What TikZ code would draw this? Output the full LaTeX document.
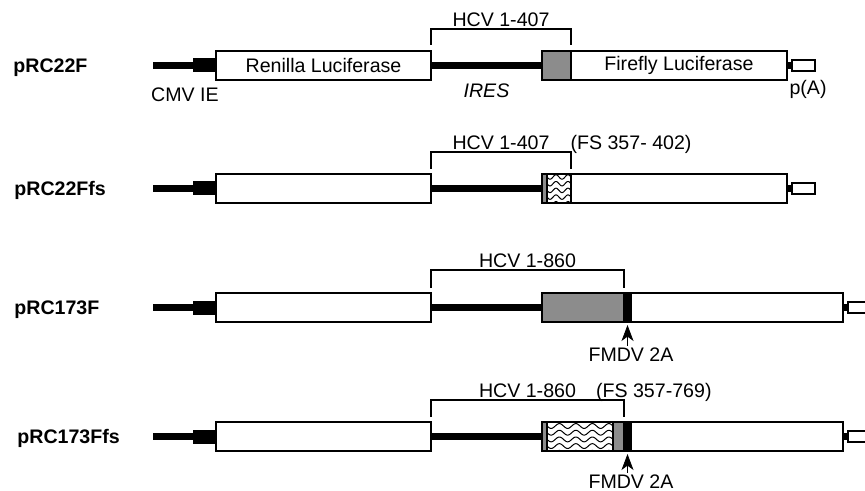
\documentclass[tikz,border=0pt]{standalone}
\usepackage{fontspec}
\setmainfont{Liberation Sans}
\usetikzlibrary{arrows.meta,positioning}
\newcommand{\lblfont}{\fontsize{9.8}{11.5}\selectfont}

\begin{document}
\begin{tikzpicture}[x=0.5pt,y=-0.5pt,font=\lblfont,
  seg/.style={draw,line width=0.9pt,inner sep=0pt,outer sep=0pt,anchor=west,minimum height=14.5pt,fill=#1},
  seg/.default=white,
  cmv/.style={fill=black,inner sep=0pt,outer sep=0pt,anchor=west,minimum width=11.5pt,minimum height=7pt},
  link/.style={fill=black,inner sep=0pt,outer sep=0pt,anchor=west,minimum width=2.5pt,minimum height=3.5pt},
  pa/.style={draw,line width=0.8pt,fill=white,inner sep=0pt,outer sep=0pt,anchor=west,minimum width=11.5pt,minimum height=5.5pt},
  dna/.style={line width=3.3pt},
  brk/.style={line width=0.7pt},
  lbl/.style={inner sep=1pt},
  plasmid/.style={font=\lblfont\bfseries,anchor=west,inner sep=0pt},
  wave/.style={line width=0.5pt},
  fmdv/.style={-{Stealth[length=8pt,width=6pt,inset=2.2pt]},line width=0.4pt}]
\clip (0,0) rectangle (865,491);

% pRC22F
\node[plasmid] (n1) at (13,67.5) {pRC22F};
\coordinate (p1) at (153,65.5);
\node[cmv] (cmv1) at (193,65.5) {};
\node[seg,minimum width=107.5pt] (ren1) at (216,65.5) {Renilla Luciferase};
\node[seg=black!45,minimum width=14.5pt] (hcv1) at (542,65.5) {};
\node[seg,minimum width=108pt] (fly1) at (hcv1.east) {Firefly Luciferase};
\node[link] (lk1) at (fly1.east) {};
\node[pa] (pa1) at (lk1.east) {};
\draw[dna] (p1) -- (cmv1.west);
\draw[dna] (ren1.east) -- node[below=4pt,font=\lblfont\itshape] (ires) {IRES} (hcv1.west);
\draw[brk] ([yshift=3pt]ren1.north east) -- ++(0,8pt)
  -| node[pos=0.25,above,lbl] (h1) {HCV 1-407} ([yshift=3pt]hcv1.north east);
\node (cmvlab) at (185,95) {CMV IE};
\node (palab) at (808,89) {p(A)};

% pRC22Ffs
\node[plasmid] (n2) at (14,190.5) {pRC22Ffs};
\coordinate (p2) at (153,188.5);
\node[cmv] (cmv2) at (193,188.5) {};
\node[seg,minimum width=107.5pt] (ren2) at (216,188.5) {};
\node[seg=black!45,minimum width=2.5pt] (hcv2) at (542,188.5) {};
\node[seg,minimum width=12pt] (wave2) at (hcv2.east) {};
\node[seg,minimum width=108pt] (fly2) at (wave2.east) {};
\node[link] (lk2) at (fly2.east) {};
\node[pa] (pa2) at (lk2.east) {};
\draw[dna] (p2) -- (cmv2.west);
\draw[dna] (ren2.east) -- (hcv2.west);
\begin{scope}
  \clip ([shift={(0.45pt,-0.45pt)}]wave2.north west) rectangle ([shift={(-0.45pt,0.45pt)}]wave2.south east);
  \foreach \k in {0,...,4}
    \draw[wave] plot[domain=545:574,samples=60] (\x,{177+6.7*\k+2.2*sin(30*(\x-547))});
\end{scope}
\draw[brk] ([yshift=2.5pt]ren2.north east) -- ++(0,8.5pt)
  -| node[pos=0.25,above,lbl] (h2) {HCV 1-407} ([yshift=2.5pt]wave2.north east);
\node[lbl,anchor=base west] (fs2) at ([xshift=8pt]h2.base east) {(FS 357- 402)};

% pRC173F
\node[plasmid] (n3) at (14,309.5) {pRC173F};
\coordinate (p3) at (153,307.5);
\node[cmv] (cmv3) at (193,307.5) {};
\node[seg,minimum width=107.5pt] (ren3) at (216,307.5) {};
\node[seg=black!45,minimum width=41pt] (hcv3) at (542,307.5) {};
\node[seg=black,minimum width=3.5pt] (band3) at (hcv3.east) {};
\node[seg,minimum width=106pt] (fly3) at (band3.east) {};
\node[link] (lk3) at (fly3.east) {};
\node[pa] (pa3) at (lk3.east) {};
\draw[dna] (p3) -- (cmv3.west);
\draw[dna] (ren3.east) -- (hcv3.west);
\draw[brk] ([yshift=2.5pt]ren3.north east) -- ++(0,9pt)
  -| node[pos=0.25,above,lbl] (h3) {HCV 1-860} ([yshift=2.5pt]hcv3.north east);
\node[lbl] (fm3) at (631,355) {FMDV 2A};
\draw[fmdv] (fm3.north -| band3.south) -- ([yshift=-1.5pt]band3.south);

% pRC173Ffs
\node[plasmid] (n4) at (17,438.5) {pRC173Ffs};
\coordinate (p4) at (153,436.5);
\node[cmv] (cmv4) at (193,436.5) {};
\node[seg,minimum width=107.5pt] (ren4) at (216,436.5) {};
\node[seg=black!45,minimum width=2.5pt] (hcv4) at (542,436.5) {};
\node[seg,minimum width=33pt] (wave4) at (hcv4.east) {};
\node[seg=black!45,minimum width=5.5pt] (tail4) at (wave4.east) {};
\node[seg=black,minimum width=3.5pt] (band4) at (tail4.east) {};
\node[seg,minimum width=106pt] (fly4) at (band4.east) {};
\node[link] (lk4) at (fly4.east) {};
\node[pa] (pa4) at (lk4.east) {};
\draw[dna] (p4) -- (cmv4.west);
\draw[dna] (ren4.east) -- (hcv4.west);
\begin{scope}
  \clip ([shift={(0.45pt,-0.45pt)}]wave4.north west) rectangle ([shift={(-0.45pt,0.45pt)}]wave4.south east);
  \foreach \k in {0,...,4}
    \draw[wave] plot[domain=545:616,samples=120] (\x,{426+6.7*\k+2.4*sin(21.82*(\x-547))});
\end{scope}
\draw[brk] ([yshift=2.5pt]ren4.north east) -- ++(0,8.5pt)
  -| node[pos=0.25,above,lbl] (h4) {HCV 1-860} ([yshift=2.5pt]tail4.north east);
\node[lbl,anchor=base west] (fs4) at ([xshift=7.5pt]h4.base east) {(FS 357-769)};
\node[lbl] (fm4) at (631,482) {FMDV 2A};
\draw[fmdv] (fm4.north -| band4.south) -- ([yshift=-1.5pt]band4.south);
\end{tikzpicture}
\end{document}
